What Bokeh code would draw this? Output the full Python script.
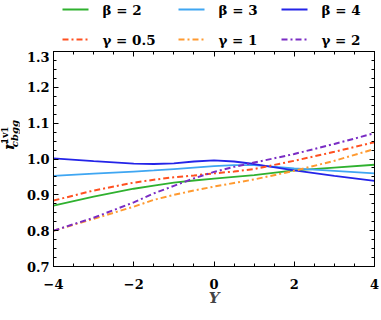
import math
from bokeh.plotting import figure
from bokeh.layouts import column, row
from bokeh.core.properties import value
from bokeh.models import (Range1d, SingleIntervalTicker, LinearAxis,
                          NumeralTickFormatter, CustomJSTickFormatter)
from bokeh.embed import file_html
from bokeh.resources import INLINE

Y = [-4, -3, -2, -1.5, -1, -0.5, 0, 0.5, 1, 2, 3, 4]
beta2 = [0.870, 0.895, 0.917, 0.926, 0.934, 0.940, 0.945, 0.950, 0.955, 0.968, 0.976, 0.984]
beta3 = [0.953, 0.959, 0.965, 0.968, 0.972, 0.976, 0.980, 0.983, 0.983, 0.974, 0.967, 0.960]
beta4 = [1.002, 0.994, 0.987, 0.986, 0.988, 0.993, 0.996, 0.993, 0.986, 0.968, 0.953, 0.939]
gamma05 = [0.884, 0.912, 0.934, 0.942, 0.949, 0.954, 0.960, 0.965, 0.972, 0.995, 1.020, 1.047]
gamma1 = [0.800, 0.833, 0.867, 0.886, 0.900, 0.912, 0.923, 0.933, 0.943, 0.967, 0.995, 1.028]
gamma2 = [0.800, 0.836, 0.879, 0.904, 0.925, 0.946, 0.964, 0.978, 0.990, 1.014, 1.042, 1.072]

labels = ["β = 2", "β = 3", "β = 4", "γ = 0.5", "γ = 1", "γ = 2"]
series = [beta2, beta3, beta4, gamma05, gamma1, gamma2]
colors = ["#2fb12f", "#3fa6f2", "#2424e8", "#ff5020", "#ff9a30", "#7a2cc4"]
dashes = ["solid", "solid", "solid", "6 3 2 3", "6 3 2 3", "6 3 2 3"]
widths = [1.8, 1.8, 1.8, 2.0, 2.0, 2.0]

FONT = "DejaVu Serif"
W, H_LEG, H_MAIN, W_YL = 380, 51, 267, 20

# ---------- main plot ----------
p = figure(width=W - W_YL, height=H_MAIN, output_backend="svg", toolbar_location=None,
           x_range=Range1d(-4, 4), y_range=Range1d(0.7, 1.3),
           x_axis_location=None, y_axis_location=None,
           min_border_left=53 - W_YL, min_border_right=6, min_border_bottom=52, min_border_top=0)
p.grid.visible = False
p.outline_line_color = "black"
p.outline_line_width = 1
p.background_fill_color = "white"
p.border_fill_color = "white"

blank = CustomJSTickFormatter(code="return ''")


def make_axis(interval, show_labels):
    ax = LinearAxis(ticker=SingleIntervalTicker(interval=interval, num_minor_ticks=4))
    ax.major_tick_in = 5
    ax.major_tick_out = 0
    ax.minor_tick_in = 3
    ax.minor_tick_out = 0
    ax.axis_line_color = "black"
    ax.major_tick_line_color = "black"
    ax.minor_tick_line_color = "black"
    ax.major_label_text_font = FONT
    ax.major_label_text_font_style = "bold"
    ax.major_label_text_font_size = "13px"
    ax.major_label_text_color = "black"
    if not show_labels:
        ax.major_label_standoff = 0
        ax.formatter = blank
    return ax


xb = make_axis(2, True)
xb.major_label_overrides = {-4: "−4", -2: "−2", 0: "0", 2: "2", 4: "4"}
xb.major_label_standoff = 12
xb.axis_label = "Y"
xb.axis_label_text_font = FONT
xb.axis_label_text_font_style = "bold italic"
xb.axis_label_text_font_size = "15px"
xb.axis_label_standoff = -3
p.add_layout(xb, "below")

yl = make_axis(0.1, True)
yl.formatter = NumeralTickFormatter(format="0.0")
yl.major_label_standoff = 4
p.add_layout(yl, "left")

yr = make_axis(0.1, False)
p.add_layout(yr, "right")
xt = make_axis(2, False)
p.add_layout(xt, "above")

for ys, c, d, w in zip(series, colors, dashes, widths):
    p.line(Y, ys, line_color=c, line_dash=d, line_width=w)


def strip(width, height):
    f = figure(width=width, height=height, output_backend="svg", toolbar_location=None,
               x_range=Range1d(0, width), y_range=Range1d(0, height),
               x_axis_location=None, y_axis_location=None,
               min_border_left=0, min_border_right=0, min_border_top=0, min_border_bottom=0)
    f.grid.visible = False
    f.outline_line_color = None
    f.background_fill_color = "white"
    f.border_fill_color = "white"
    return f


# ---------- y-axis label strip: r^{1v1}_{cbgg} ----------
yfig = strip(W_YL, H_MAIN)
yfig.text(x=[8.5], y=[H_MAIN - 117.5], text=["r"], angle=math.pi / 2,
          text_align="center", text_baseline="middle", text_font=value(FONT),
          text_font_style="bold italic", text_font_size="15px", text_color="black")
yfig.text(x=[4.5], y=[H_MAIN - 104], text=["1v1"], angle=math.pi / 2,
          text_align="center", text_baseline="middle", text_font=value(FONT),
          text_font_style="bold", text_font_size="9px", text_color="black")
yfig.text(x=[14], y=[H_MAIN - 102], text=["cbgg"], angle=math.pi / 2,
          text_align="center", text_baseline="middle", text_font=value(FONT),
          text_font_style="bold italic", text_font_size="10px", text_color="black")

# ---------- legend strip ----------
lg = strip(W, H_LEG)
col_x = [62, 178, 281]
row_y = [H_LEG - 9, H_LEG - 39]
for i, (lab, c, d, w) in enumerate(zip(labels, colors, dashes, widths)):
    x0 = col_x[i % 3]
    yy = row_y[i // 3]
    lg.line([x0, x0 + 26], [yy, yy], line_color=c, line_dash=d, line_width=w)
    lg.text(x=[x0 + 40], y=[yy], text=[lab], text_align="left", text_baseline="middle",
            text_font=value(FONT), text_font_style="bold", text_font_size="13.5px",
            text_color="black")

open("out.html", "w").write(file_html(column(lg, row(yfig, p, spacing=0), spacing=0), INLINE))
